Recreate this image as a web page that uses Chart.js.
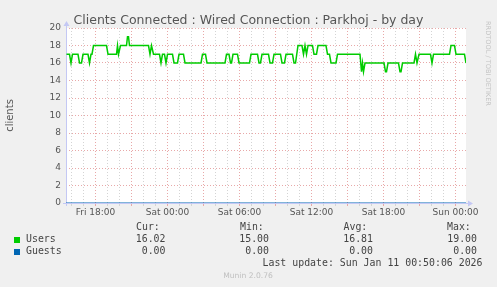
<!DOCTYPE html>
<html>
<head>
<meta charset="utf-8">
<script src="https://cdn.jsdelivr.net/npm/chart.js@4"></script>
<style>
  body { margin: 0; background: #f0f0f0; }
  canvas { display: block; }
</style>
</head>
<body>
<canvas id="munin" width="497" height="287"></canvas>
<script>
// minutes since Fri 18:00 (5 min per pixel)
const times = [
  -145, -130, -122.5, -115, -87.5, -80, -70, -62.5, -37.5, -30,
  -22.5, -17.5, -10, 55, 62.5, 105, 110, 115, 125, 155,
  160, 165, 170, 265, 272.5, 280, 290, 320, 327.5, 335,
  345, 352.5, 360, 385, 392.5, 410, 417.5, 440, 447.5, 527.5,
  535, 550, 557.5, 647.5, 655, 667.5, 675, 680, 687.5, 710,
  717.5, 770, 777.5, 810, 817.5, 825, 832.5, 865, 872.5, 885,
  892.5, 925, 932.5, 945, 952.5, 985, 992.5, 1000, 1012.5, 1032.5,
  1040, 1047.5, 1055, 1062.5, 1085, 1092.5, 1105, 1112.5, 1152.5, 1160,
  1170, 1177.5, 1202.5, 1210, 1322.5, 1330, 1335, 1340, 1347.5, 1442.5,
  1450, 1455, 1462.5, 1515, 1522.5, 1527.5, 1535, 1592.5, 1600, 1607.5,
  1617.5, 1675, 1682.5, 1690, 1770, 1777.5, 1795, 1802.5, 1845, 1852.5
];
const users = [
  17, 17, 16, 17, 17, 16, 16, 17, 17, 16,
  17, 17, 18, 18, 17, 17, 18, 17, 18, 18,
  19, 19, 18, 18, 17, 18, 17, 17, 16, 17,
  17, 16, 17, 17, 16, 16, 17, 17, 16, 16,
  17, 17, 16, 16, 17, 17, 16, 16, 17, 17,
  16, 16, 17, 17, 16, 16, 17, 17, 16, 16,
  17, 17, 16, 16, 17, 17, 16, 16, 18, 18,
  17, 18, 17, 18, 18, 17, 17, 18, 18, 17,
  17, 16, 16, 17, 17, 15, 16, 15, 16, 16,
  15, 15, 16, 16, 15, 15, 16, 16, 17, 16,
  17, 17, 16, 17, 17, 18, 18, 17, 17, 16
];
const guestTimes = [-147.5, 1852.5];
const guests = [0, 0];

const tickMinutes = [0, 360, 720, 1080, 1440, 1800];
const tickLabels = ["Fri 18:00", "Sat 00:00", "Sat 06:00", "Sat 12:00", "Sat 18:00", "Sun 00:00"];

const statHeaders = ["Cur:", "Min:", "Avg:", "Max:"];
const usersStats = ["16.02", "15.00", "16.81", "19.00"];
const guestsStats = ["0.00", "0.00", "0.00", "0.00"];

const RED_GRID = "#e8a8a8";
const GRAY_GRID = "#d4d4d4";
const AXIS = "#c4c8f4";

Chart.defaults.font.family = "DejaVu Sans";

const muninDecor = {
  id: "muninDecor",
  beforeDraw(chart) {
    const { ctx, chartArea: a } = chart;
    ctx.save();
    ctx.fillStyle = "#f0f0f0";
    ctx.fillRect(0, 0, chart.width, chart.height);
    ctx.fillStyle = "#ffffff";
    ctx.fillRect(a.left, a.top, a.right - a.left, a.bottom - a.top);
    ctx.restore();
  },
  beforeDatasetsDraw(chart) {
    // solid axes with arrows, under the series
    const { ctx, chartArea: a } = chart;
    ctx.save();
    ctx.strokeStyle = AXIS;
    ctx.fillStyle = AXIS;
    ctx.lineWidth = 1;
    ctx.beginPath();
    ctx.moveTo(a.left + 0.5, a.bottom + 3);
    ctx.lineTo(a.left + 0.5, a.top - 4);
    ctx.moveTo(a.left - 3, a.bottom + 0.5);
    ctx.lineTo(a.right + 3, a.bottom + 0.5);
    ctx.stroke();
    ctx.beginPath();
    ctx.moveTo(a.left + 0.5, a.top - 7);
    ctx.lineTo(a.left - 2.5, a.top - 2);
    ctx.lineTo(a.left + 3.5, a.top - 2);
    ctx.closePath();
    ctx.fill();
    ctx.beginPath();
    ctx.moveTo(a.right + 7, a.bottom + 0.5);
    ctx.lineTo(a.right + 2, a.bottom - 2.5);
    ctx.lineTo(a.right + 2, a.bottom + 3.5);
    ctx.closePath();
    ctx.fill();
    ctx.restore();
  },
  afterDraw(chart) {
    const { ctx } = chart;
    ctx.save();
    // title
    ctx.fillStyle = "#555555";
    ctx.font = "12.5px 'DejaVu Sans'";
    ctx.textAlign = "center";
    ctx.textBaseline = "alphabetic";
    ctx.fillText("Clients Connected : Wired Connection : Parkhoj - by day", 248.5, 23.5);

    // rrdtool watermark
    ctx.save();
    ctx.translate(488, 21);
    ctx.rotate(Math.PI / 2);
    ctx.fillStyle = "#c4c4c4";
    ctx.font = "6.6px 'DejaVu Sans'";
    ctx.textAlign = "left";
    ctx.textBaseline = "middle";
    ctx.fillText("RRDTOOL / TOBI OETIKER", 0, 0);
    ctx.restore();

    // legend
    ctx.font = "9.9px 'DejaVu Sans Mono'";
    ctx.fillStyle = "#444444";
    ctx.textBaseline = "middle";
    const headX = [136, 240, 343.5, 447];
    const valX = [165.5, 269, 373, 477];
    ctx.textAlign = "left";
    statHeaders.forEach((h, i) => ctx.fillText(h, headX[i], 227.7));
    ctx.fillText("Users", 26, 239.7);
    ctx.fillText("Guests", 26, 251.7);
    ctx.textAlign = "right";
    usersStats.forEach((v, i) => ctx.fillText(v, valX[i], 239.7));
    guestsStats.forEach((v, i) => ctx.fillText(v, valX[i], 251.7));
    ctx.fillText("Last update: Sun Jan 11 00:50:06 2026", 482.5, 263.5);
    ctx.fillStyle = chart.data.datasets[0].borderColor;
    ctx.fillRect(14, 237, 6, 6);
    ctx.fillStyle = chart.data.datasets[1].borderColor;
    ctx.fillRect(14, 249, 6, 6);

    ctx.fillStyle = "#c0c0c0";
    ctx.font = "7.6px 'DejaVu Sans'";
    ctx.textAlign = "center";
    ctx.fillText("Munin 2.0.76", 248, 276);
    ctx.restore();
  }
};

const config = {
  type: "line",
  data: {
    datasets: [
      {
        label: "Users",
        data: times.map((t, i) => ({ x: t, y: users[i] })),
        borderColor: "#00cc00",
        borderWidth: 1.5,
        pointRadius: 0,
        tension: 0,
      },
      {
        label: "Guests",
        data: guestTimes.map((t, i) => ({ x: t, y: guests[i] })),
        borderColor: "#0066b3",
        borderWidth: 1,
        pointRadius: 0,
        tension: 0,
      },
    ],
  },
  options: {
    responsive: false,
    animation: false,
    layout: {
      padding: { top: 28, right: 31, bottom: 0, left: 0 },
    },
    plugins: {
      legend: { display: false },
      title: { display: false },
      tooltip: { enabled: false },
    },
    scales: {
      x: {
        type: "linear",
        min: -147.5,
        max: 1852.5,
        afterFit: (scale) => { scale.height = 84; },
        ticks: {
          stepSize: 60,
          includeBounds: false,
          autoSkip: false,
          maxRotation: 0,
          minRotation: 0,
          padding: 1,
          color: "#555555",
          font: { size: 9 },
          callback: (v) => {
            const i = tickMinutes.indexOf(v);
            return i >= 0 ? tickLabels[i] : "";
          },
        },
        grid: {
          color: (c) => (c.tick && c.tick.value % 180 === 0 ? RED_GRID : GRAY_GRID),
          tickLength: 3,
        },
        border: { display: false, dash: [1, 2] },
      },
      y: {
        min: 0,
        max: 20,
        afterFit: (scale) => { scale.width = 66; },
        title: {
          display: true,
          text: "clients",
          color: "#555555",
          font: { size: 10 },
        },
        ticks: {
          stepSize: 1,
          padding: 5,
          color: "#555555",
          font: { size: 9 },
          callback: (v) => (v % 2 === 0 ? String(v) : ""),
        },
        grid: {
          color: (c) => (c.tick && c.tick.value % 2 === 0 ? RED_GRID : GRAY_GRID),
          drawTicks: false,
        },
        border: { display: false, dash: [1, 2] },
      },
    },
  },
  plugins: [muninDecor],
};

new Chart(document.getElementById("munin"), config);
</script>
</body>
</html>
